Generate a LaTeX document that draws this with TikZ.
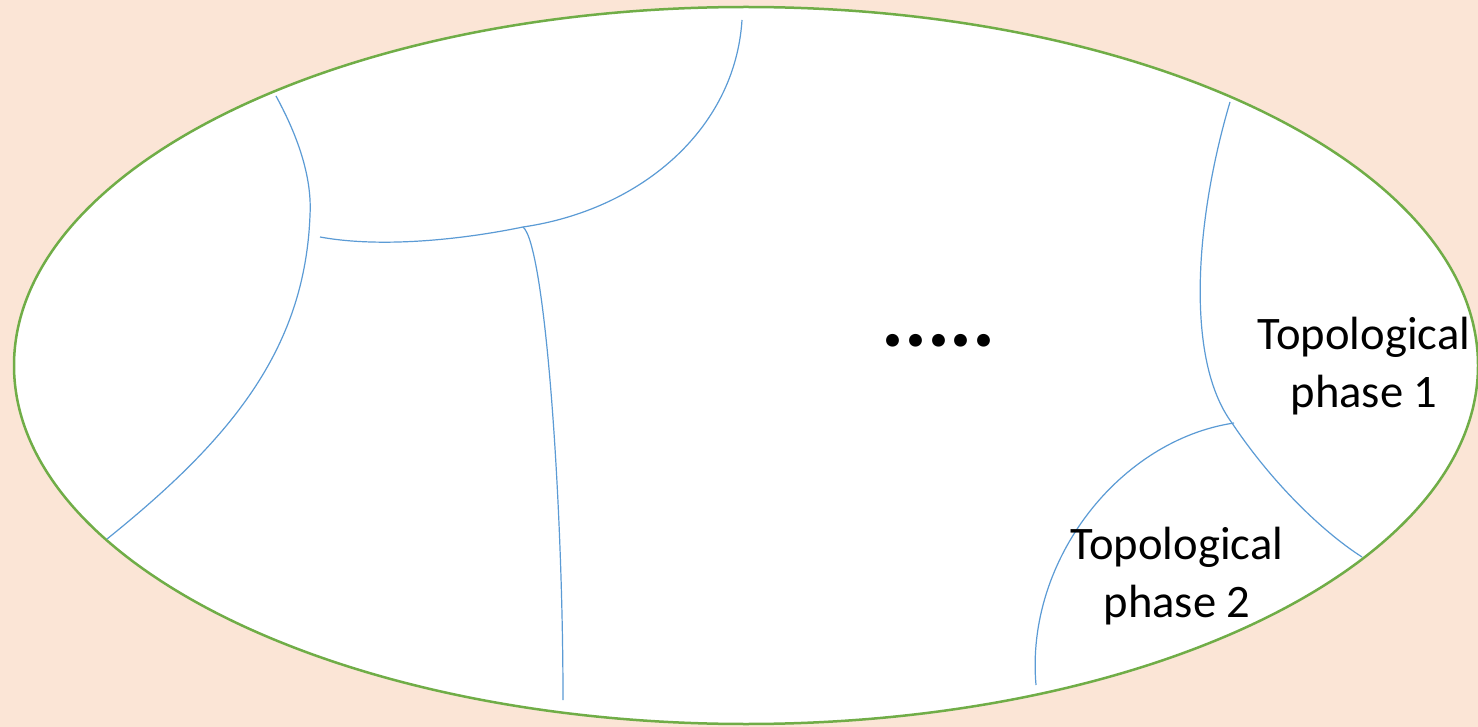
\documentclass[tikz,border=0pt]{standalone}
\usepackage{fontspec}
\setmainfont{Carlito}
\usetikzlibrary{calc}
\definecolor{peach}{HTML}{FBE5D6}
\definecolor{leafgreen}{HTML}{70AD47}
\definecolor{lineblue}{HTML}{5B9BD5}
\begin{document}
\begin{tikzpicture}[x=1pt,y=-1pt,
  rim/.style={draw=leafgreen,line width=2.5pt,fill=white},
  wall/.style={draw=lineblue,line width=1.2pt},
  phase/.style={align=center,inner sep=0pt,font=\fontsize{46.6}{57.5}\selectfont}]
  \fill[peach] (0,0) rectangle (1478,727);
  \useasboundingbox (0,0) rectangle (1478,727);
  \coordinate (O) at (746,365.5);
  \draw[rim] (O) ellipse [x radius=732,y radius=358.5];
  % phase boundaries
  \coordinate (J) at (523,227);
  \coordinate (K) at (1232,423);
  \draw[wall] (276,96) .. controls (300,140) and (312,180) .. (310,215)
    .. controls (305,350) and (230,440) .. (107,539);
  \draw[wall] (742,20) .. controls (735,130) and (640,210) .. (J)
    .. controls (460,240) and (380,248) .. (320,237);
  \draw[wall] (J) .. controls (545,245) and (563,500) .. (563,700);
  \draw[wall] (1230,102) .. controls (1195,220) and (1185,360) .. (K)
    .. controls (1270,480) and (1320,530) .. (1362,557);
  \draw[wall] (1234,423) .. controls (1120,440) and (1025,560) .. (1036,685);
  % labels
  \node[phase] (P1) at (1364,366) {Topological\\phase 1};
  \node[phase] (P2) at (1177,576) {Topological\\phase 2};
  \node[anchor=base,inner sep=0pt,font=\fontsize{86}{86}\selectfont\bfseries] (D) at (938.5,346) {.....};
\end{tikzpicture}
\end{document}
